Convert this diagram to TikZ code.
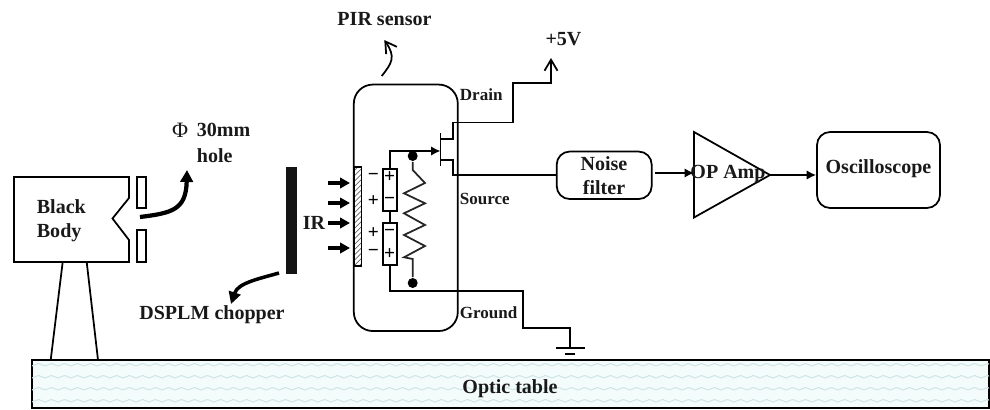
\documentclass[tikz,border=0pt]{standalone}
\usepackage{fontspec}
\setmainfont{Liberation Serif}
\usepackage{tikz}
\usetikzlibrary{arrows.meta, patterns, positioning}
\definecolor{tableback}{RGB}{244,251,251}
\definecolor{tablewave}{RGB}{208,230,230}

\begin{document}
\begin{tikzpicture}[
            x=0.02cm, y=-0.02cm,
            line width=1pt, line join=miter,
            >={Latex[width=2mm,length=2mm]},
                base/.style = {inner sep=0pt, font=\fontsize{11.4}{13.5}\selectfont\bfseries, align=center, text=black!90},
                tag/.style = {base, anchor=west},
                small/.style = {tag, font=\fontsize{9.7}{11}\selectfont\bfseries},
                round/.style = {draw=black, rectangle, rounded corners=2.6mm, inner sep=0pt},
                slit/.style = {draw=black, rectangle, inner sep=0pt, minimum width=0.18cm},
                cell/.style = {draw=black, rectangle, inner sep=0pt, minimum width=0.28cm, minimum height=0.84cm},
                sign/.style = {inner sep=0pt, font=\fontsize{11}{11}\selectfont\bfseries},
                bigarrow/.style = {line width=2.4pt, -{Triangle[width=2.5mm,length=2.4mm]}},
                choparrow/.style = {line width=2pt, -{Triangle[width=2.4mm,length=2.4mm]}},
                rayarrow/.style = {line width=1.8pt, -{Triangle[width=2.1mm,length=2mm]}},
                openarrow/.style = {-{Straight Barb[width=2.6mm,length=2.2mm]}},
                sigarrow/.style = {->, >={Latex[width=1.9mm,length=1.9mm]}},
                dot/.style = {circle, fill=black, inner sep=0pt, minimum size=0.2cm}]
            \useasboundingbox (0,0) rectangle (990,409);

            % optic table
            \node (table) [draw=black, rectangle, fill=tableback, inner sep=0pt, minimum width=19.14cm, minimum height=0.96cm, line width=1.1pt] at (510.5,384) {};
            \begin{scope}
                \clip (32,361) rectangle (989,407);
                \foreach \row in {366,378,390,402} {
                    \draw[tablewave, line width=0.6pt] (32,\row)
                        \foreach \i in {0,...,74} { -- ++(6.5,-2.5) -- ++(6.5,2.5) };
                }
            \end{scope}
            \node (tablelabel) [base] at (510,388.5) {Optic table};

            % black body
            \coordinate (bb1) at (14,177);
            \coordinate (bb2) at (129,177);
            \coordinate (bb3) at (129,198);
            \coordinate (bb4) at (112.5,218.5);
            \coordinate (bb5) at (129,240);
            \coordinate (bb6) at (129,262);
            \coordinate (bb7) at (14,262);
            \draw (bb1) -- (bb2) -- (bb3) -- (bb4) -- (bb5) -- (bb6) -- (bb7) -- cycle;
            \node (blackbody) [tag, align=left] at (36,221) {Black\\Body};
            \draw (62.7,262) -- (50.7,360);
            \draw (86.7,262) -- (98,360);
            \node (slitup) [slit, minimum height=0.62cm] at (141.5,192.5) {};
            \node (slitdown) [slit, minimum height=0.64cm] at (141.5,246) {};

            \coordinate (holestart) at (140,217);
            \node (holelabel) [tag] at (196,130) {30mm};
            \node (phi) [base, font=\fontsize{12.5}{13.5}\selectfont, left=0.14cm of holelabel] {Φ};
            \node (hole) [tag, below=0.2cm of holelabel.south west, anchor=north west] {hole};
            \coordinate (holeend) at (187,170);
            \draw[bigarrow] (holestart) .. controls (172,213) and (186,210) .. (holeend);

            % chopper
            \node (chopper) [rectangle, fill=black!92, inner sep=0pt, minimum width=0.21cm, minimum height=2.14cm] at (291.5,220.5) {};
            \coordinate (chopperstart) at (279,273);
            \coordinate (chopperend) at (231,304);
            \draw[choparrow] (chopperstart) .. controls (258,279) and (238,283) .. (chopperend);
            \node (chopperlabel) [base] at (212,314.5) {DSPLM chopper};

            % IR rays
            \node (ir) [base] at (314,222.5) {IR};
            \foreach \ypos [count=\n] in {183,203,223,248} {
                \coordinate (raystart\n) at (328,\ypos);
                \coordinate (rayend\n) at (350,\ypos);
                \draw[rayarrow] (raystart\n) -- (rayend\n);
            }

            % PIR sensor
            \node (sensor) [round, rounded corners=0.38cm, minimum width=2.08cm, minimum height=4.93cm] at (405.8,207.8) {};
            \node (absorber) [draw=black, rectangle, pattern=north east lines, pattern color=black!60, inner sep=0pt, minimum width=0.15cm, minimum height=1.98cm] at (357.7,216.5) {};
            \node (sensorlabel) [base] at (384.5,19) {PIR sensor};
            \coordinate (sensorstart) at (381.7,76);
            \coordinate (sensorend) at (384.3,40);
            \draw[openarrow] (sensorstart) .. controls (392,63) and (396,57) .. (sensorend);

            % pyroelectric cells
            \node (cellup) [cell] at (389.7,190) {};
            \node (celldown) [cell] at (389.7,244) {};
            \draw (cellup) -- (celldown);
            \node (signa) [sign] at (389.7,177) {+};
            \node (signb) [sign] at (389.7,200.5) {−};
            \node (signc) [sign] at (389.7,232.5) {−};
            \node (signd) [sign] at (389.7,254) {+};
            \node (signe) [sign] at (373.5,177) {−};
            \node (signf) [sign] at (373.5,201) {+};
            \node (signg) [sign] at (373.5,233) {+};
            \node (signh) [sign] at (373.5,253) {−};

            % resistor
            \node (dottop) [dot] at (412.7,156) {};
            \node (dotbottom) [dot] at (412.7,283) {};
            \draw[black!85] (dottop) -- (412.7,170) -- (425,183) -- (404,193.3) -- (425,203.3) -- (404,213.3)
                -- (425,225) -- (404,235) -- (425,246) -- (404,257.3) -- (412.7,259) -- (dotbottom);

            % transistor
            \coordinate (gate) at (440.5,151);
            \coordinate (gatetop) at (440.5,133);
            \coordinate (gatebottom) at (440.5,166);
            \draw (gatetop) -- (gatebottom);
            \draw[sigarrow] (cellup.north) |- (gate);

            % output
            \coordinate (plusfive) at (551,58);
            \node (plusfivelabel) [base] at (563.5,39) {+5V};
            \draw[openarrow] (441,139) -- (453,139) -- (453,122.5) -- (512.7,122.5) -- (512.7,83) -- (551,83) -- (plusfive);
            \node (noise) [round, minimum width=1.9cm, minimum height=0.95cm] at (604.2,175.3) {};
            \node (noiselabel) [base] at (604,176) {Noise\\filter};
            \draw (441,160) -- (453,160) -- (453,175) -- (noise.west |- 0,175);

            \coordinate (amp1) at (694,132);
            \coordinate (amp2) at (694,217.5);
            \coordinate (amp3) at (770,175);
            \draw (amp1) -- (amp2) -- (amp3) -- cycle;
            \node (amplabel) [base] at (728,174) {OP Amp};
            \node (scope) [round, minimum width=2.46cm, minimum height=1.52cm] at (878.5,170) {};
            \node (scopelabel) [base] at (878.5,168.5) {Oscilloscope};
            \coordinate (noiseout) at (655,173);
            \coordinate (ampin) at (694,173);
            \draw[sigarrow] (noiseout) -- (ampin);
            \draw[sigarrow] (amp3) -- (scope.west |- amp3);

            % ground
            \coordinate (groundpoint) at (570,348);
            \draw (celldown.south) |- (522.7,290.7) |- (570,328) -- (groundpoint);
            \coordinate (bar1) at (556,348);
            \coordinate (bar2) at (585,348);
            \coordinate (bar3) at (565,354);
            \coordinate (bar4) at (575,354);
            \draw (bar1) -- (bar2);
            \draw (bar3) -- (bar4);

            % terminal names
            \node (drain) [small] at (459,95) {Drain};
            \node (source) [small] at (459,199) {Source};
            \node (ground) [small] at (459,312.5) {Ground};
        \end{tikzpicture}
\end{document}
